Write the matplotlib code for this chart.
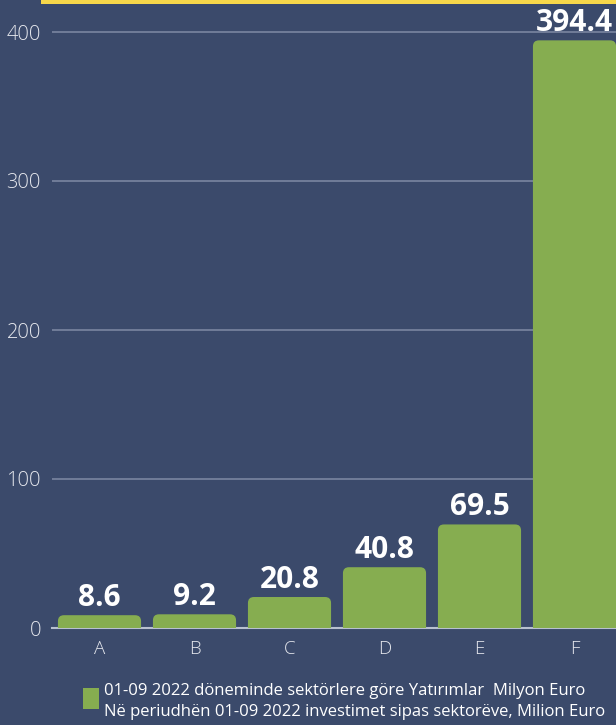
import matplotlib
matplotlib.use("Agg")
import matplotlib.pyplot as plt
from matplotlib.patches import FancyBboxPatch, Rectangle

categories = ["A", "B", "C", "D", "E", "F"]
values = [8.6, 9.2, 20.8, 40.8, 69.5, 394.4]
yticks = [0, 100, 200, 300, 400]
legend_lines = ["01-09 2022 döneminde sektörlere göre Yatırımlar  Milyon Euro",
                "Në periudhën 01-09 2022 investimet sipas sektorëve, Milion Euro"]

BG = "#3b4a6b"
GREEN = "#86ad50"
W, H = 616, 725
fig = plt.figure(figsize=(W / 100, H / 100), dpi=100, facecolor=BG)

# axes: x from 52px to 616px, y from 628px (0) to 4px
ax_left, ax_right = 52, 616
ax_bottom, ax_top = 628, 4
ax = fig.add_axes([ax_left / W, 1 - ax_bottom / H, (ax_right - ax_left) / W, (ax_bottom - ax_top) / H])
ax.set_facecolor(BG)
ymax = (ax_bottom - ax_top) / 1.49
step_px = 95.0
xmin = -0.5
xmax = xmin + (ax_right - ax_left) / step_px
ax.set_xlim(xmin, xmax)
ax.set_ylim(0, ymax)

bw = 0.875
px_x = 1 / step_px
px_y = 1 / 1.49
for i, v in enumerate(values):
    p = FancyBboxPatch((i - bw / 2, -20), bw, v + 20,
                       boxstyle="round,pad=0,rounding_size=%f" % (6 * px_x),
                       mutation_aspect=px_y / px_x,
                       facecolor=GREEN, edgecolor="none", zorder=3)
    ax.add_patch(p)
    ax.text(i, v + 9 * px_y, f"{v:.1f}", ha="center", va="baseline",
            fontsize=21.5, fontweight="bold", color="white",
            family="Open Sans", zorder=4)

ax.set_yticks(yticks)
ax.set_yticklabels([str(t) for t in yticks], fontsize=14.5, color="#e6e8ee",
                   family="Open Sans", fontweight="light")
ax.set_xticks(range(len(categories)))
ax.set_xticklabels(categories, fontsize=13.5, color="#e6e8ee",
                   family="Open Sans", fontweight="light")
ax.tick_params(axis="both", length=0)
ax.tick_params(axis="y", pad=8)
ax.tick_params(axis="x", pad=9)
ax.grid(axis="y", color="#7a86a0", linewidth=1.2, zorder=1)
for s in ["top", "right", "left"]:
    ax.spines[s].set_visible(False)
ax.spines["bottom"].set_color("#b8c0d0")
ax.spines["bottom"].set_linewidth(1.5)
ax.spines["bottom"].set_zorder(2)

# yellow top strip
fig.patches.append(Rectangle((41 / W, 1 - 4 / H), 1 - 41 / W, 4 / H,
                             transform=fig.transFigure, facecolor="#f7d74a",
                             edgecolor="none", zorder=5))

# legend
fig.patches.append(Rectangle((83 / W, 1 - 709 / H), 16 / W, 21 / H,
                             transform=fig.transFigure, facecolor=GREEN,
                             edgecolor="none"))
for k, line in enumerate(legend_lines):
    fig.text(104 / W, 1 - (695 + 21 * k) / H, line, ha="left", va="baseline",
             fontsize=12, color="white", family="Open Sans")

fig.savefig("out.png", dpi=100, facecolor=BG)
